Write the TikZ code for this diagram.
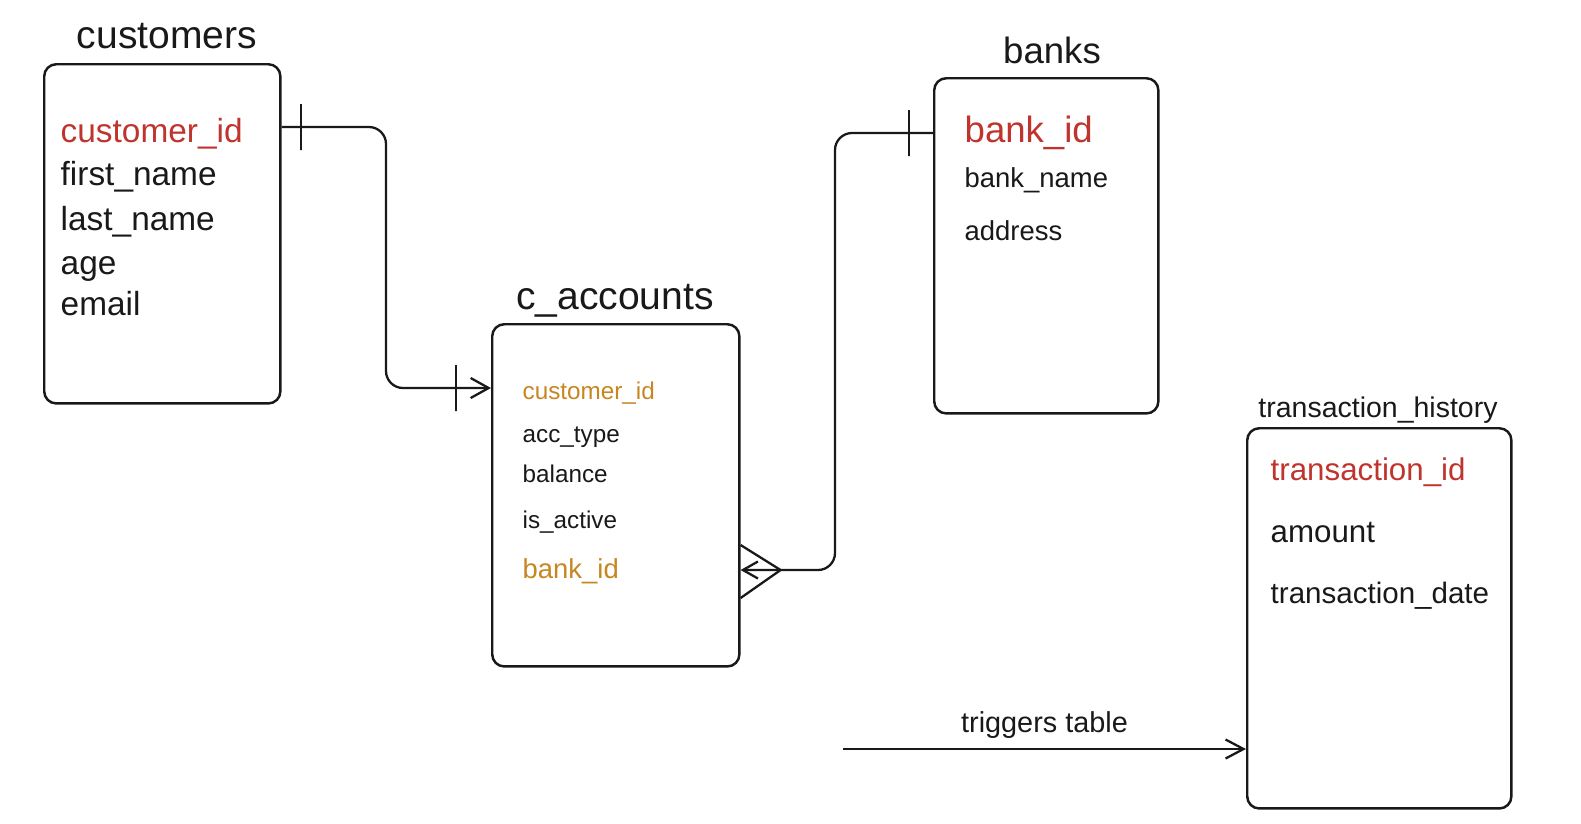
\documentclass[tikz,border=0pt]{standalone}
\usepackage{fontspec}
\setmainfont{Liberation Sans}
\usetikzlibrary{arrows.meta,positioning,calc}
\definecolor{keyred}{RGB}{192,52,46}
\definecolor{fkorange}{RGB}{198,134,32}
\definecolor{ink}{RGB}{25,25,25}
\newcommand{\fsz}[1]{\fontsize{#1}{#1}\selectfont}

\begin{document}
\begin{tikzpicture}[
    x=0.01cm, y=-0.01cm, color=ink,
    tablebox/.style={draw, line width=0.7pt, rounded corners=0.12cm, inner sep=0, anchor=north west},
    tabletitle/.style={anchor=base, inner sep=0},
    field/.style={anchor=base west, inner sep=0},
    pk/.style={field, text=keyred},
    fk/.style={field, text=fkorange},
    conn/.style={line width=0.65pt, rounded corners=0.17cm},
    tick/.style={draw, sharp corners, line width=0.65pt, inner sep=0, minimum width=0pt, minimum height=0.46cm}
]

% Canvas
\useasboundingbox (0,0) rectangle (1581,823);

% Tables
\node[tablebox, minimum width=2.36cm, minimum height=3.39cm] (customers) at (43,63) {};
\node[tablebox, minimum width=2.47cm, minimum height=3.42cm] (accounts) at (491,323) {};
\node[tablebox, minimum width=2.24cm, minimum height=3.35cm] (banks) at (933,77) {};
\node[tablebox, minimum width=2.64cm, minimum height=3.80cm] (history) at (1246,427) {};

% Titles
\node[tabletitle, font=\fsz{11.1}] (customerstitle) at (167,48) {customers};
\node[tabletitle, font=\fsz{11.1}] (accountstitle) at (615,309) {c\_accounts};
\node[tabletitle, font=\fsz{10.4}] (bankstitle) at (1052,63) {banks};
\node[tabletitle, font=\fsz{8.1}] (historytitle) at (1378,417) {transaction\_history};

% Fields: customers
\node[pk, font=\fsz{9.5}] (custid) at (60,142) {customer\_id};
\node[field, font=\fsz{9.5}] (firstname) at (60,185) {first\_name};
\node[field, font=\fsz{9.5}] (lastname) at (60,230) {last\_name};
\node[field, font=\fsz{9.5}] (age) at (60,274) {age};
\node[field, font=\fsz{9.5}] (email) at (60,315) {email};

% Fields: c_accounts
\node[fk, font=\fsz{6.9}] (acccustid) at (522,399) {customer\_id};
\node[field, font=\fsz{6.9}] (acctype) at (522,442) {acc\_type};
\node[field, font=\fsz{6.9}] (balance) at (522,482) {balance};
\node[field, font=\fsz{6.9}] (isactive) at (522,528) {is\_active};
\node[fk, font=\fsz{7.8}] (accbankid) at (522,578) {bank\_id};

% Fields: banks
\node[pk, font=\fsz{10.4}] (bankid) at (964,142) {bank\_id};
\node[field, font=\fsz{7.8}] (bankname) at (964,187) {bank\_name};
\node[field, font=\fsz{7.8}] (address) at (964,240) {address};

% Fields: transaction_history
\node[pk, font=\fsz{8.9}] (transid) at (1270,480) {transaction\_id};
\node[field, font=\fsz{8.9}] (amount) at (1270,542) {amount};
\node[field, font=\fsz{8.4}] (transdate) at (1270,603) {transaction\_date};

% Link levels
\coordinate (custlink) at (386,127);
\coordinate (acclink) at (386,388);
\coordinate (banklink) at (835,133);
\coordinate (bankfk) at (835,570);
\coordinate (trigstart) at (843,749);

% customers -> c_accounts
\draw[conn, -{Straight Barb[length=0.18cm, width=0.2cm]}] (customers.east |- custlink)
    -- node[tick, pos=0.187] {} (custlink) -- (acclink)
    -- node[tick, pos=0.667] {} (accounts.west |- acclink);

% banks -> c_accounts
\draw[conn, -{Straight Barb[length=0.15cm, width=0.17cm]}] (banks.west |- banklink)
    -- node[tick, pos=0.245] {} (banklink) -- (bankfk) -- (accounts.east |- bankfk);
\draw[conn, sharp corners] ($(accounts.east |- bankfk)+(0,-25)$) -- ($(accounts.east |- bankfk)+(40,0)$)
    -- ($(accounts.east |- bankfk)+(0,28)$);

% Trigger
\draw[conn, -{Straight Barb[length=0.18cm, width=0.19cm]}] (trigstart)
    -- node[midway, above, inner sep=2.6pt, font=\fsz{8.2}] (triglabel) {triggers table} (history.west |- trigstart);

\end{tikzpicture}
\end{document}
